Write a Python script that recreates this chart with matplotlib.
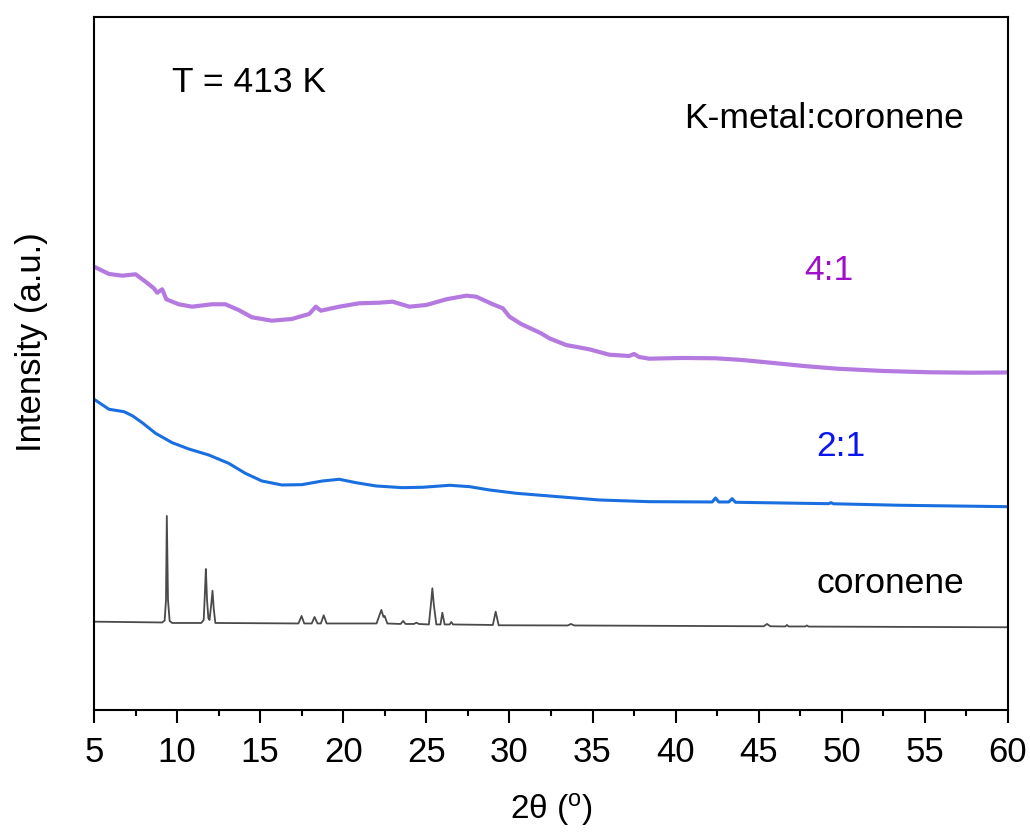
import matplotlib.pyplot as plt
from matplotlib import font_manager

# XRD patterns at 413 K, stacked (intensity in arbitrary units)
two_theta_41 = [5.0, 5.9, 6.7, 7.5, 8.1, 8.6, 8.8, 9.1, 9.35, 10.1, 10.9, 12.1, 12.9,
                13.7, 14.5, 15.7, 16.9, 17.95, 18.35, 18.65, 19.76, 20.96, 22.17,
                22.97, 23.98, 25.0, 26.2, 27.4, 28.0, 29.0, 29.6, 30.0, 30.7, 31.9,
                32.4, 33.4, 34.8, 36.0, 37.2, 37.5, 37.8, 38.4, 40.4, 42.4, 44.0,
                45.7, 47.7, 49.7, 52.5, 55.3, 57.7, 60.0]
int_41 = [443.3, 436, 434.3, 435.7, 428.3, 421.7, 417.3, 420.7, 410.7, 405.7, 403.3,
          405.7, 405.7, 400, 392.7, 389.3, 391, 396, 403.3, 399.3, 403.3, 406.7,
          407.3, 408.3, 403.3, 405, 410.7, 414.3, 413.3, 405.7, 401.7, 393.3, 386,
          376.7, 371.7, 365, 360.7, 355.3, 354, 356, 353, 351.3, 352, 351.7, 350,
          347.3, 344, 341.3, 339, 337.7, 337.3, 337.5]

two_theta_21 = [5.0, 5.9, 6.8, 7.3, 7.9, 8.7, 9.7, 10.7, 11.9, 13.1, 14.1, 15.1, 16.3,
                17.5, 18.75, 19.76, 20.76, 21.97, 23.57, 24.78, 26.4, 27.6, 28.8,
                30.4, 32.4, 35.4, 38.4, 42.2, 42.4, 42.6, 43.2, 43.4, 43.6, 47.5,
                49.2, 49.35, 49.5, 53.5, 60.0]
int_21 = [310.7, 300.7, 298.3, 294.3, 287.3, 276.7, 267.3, 261, 255, 246.7, 236.7,
          229, 225, 225.3, 229, 230.7, 227.3, 224, 222.3, 222.7, 224.7, 223.3, 220,
          216.7, 214, 210, 208.3, 208, 212, 208, 208, 211.3, 207.7, 206.7,
          206.3, 207.3, 206.2, 204.7, 203.3]

two_theta_cor = [5.0, 9.1, 9.25, 9.33, 9.38, 9.45, 9.55, 9.7, 11.45, 11.6, 11.68, 11.73,
                 11.8, 11.88, 11.95, 12.05, 12.13, 12.2, 12.3, 17.3, 17.49, 17.65,
                 18.1, 18.27, 18.45, 18.65, 18.82, 19.0, 22.0, 22.29, 22.42, 22.49,
                 22.65, 23.45, 23.6, 23.75, 24.25, 24.4, 24.55, 25.15, 25.3, 25.36,
                 25.45, 25.6, 25.85, 25.96, 26.1, 26.4, 26.5, 26.6, 29.0, 29.17,
                 29.35, 33.5, 33.7, 33.9, 45.3, 45.5, 45.7, 46.6, 46.7, 46.8, 47.8,
                 47.9, 48.0, 60.0]
int_cor = [88.3, 87.5, 89.5, 110, 194, 110, 89, 87, 87, 90, 120, 141, 110, 92, 90,
           105, 119.3, 102, 87, 86.5, 94, 86.5, 86.5, 93, 86.5, 86.5, 94.7, 86.5,
           86.5, 100, 93, 94, 86.5, 86, 89, 86, 86, 87.3, 86, 85.5, 110, 121.7, 105,
           85.5, 85.5, 97.3, 85.5, 85.5, 88, 85.5, 85, 98.3, 84.7, 84.5, 86, 84.5,
           83.7, 86, 83.7, 83.5, 85, 83.5, 83.5, 84.5, 83.4, 82.7]

x_ticks = [5, 10, 15, 20, 25, 30, 35, 40, 45, 50, 55, 60]

installed = {f.name for f in font_manager.fontManager.ttflist}
plt.rcParams['font.family'] = ['Liberation Sans', 'DejaVu Sans']
narrow = 'Liberation Sans Narrow' if 'Liberation Sans Narrow' in installed else 'Liberation Sans'

fig = plt.figure(figsize=(10.3, 8.33), dpi=100)
ax = fig.add_axes([0.0913, 0.1477, 0.8873, 0.8319])

ax.plot(two_theta_41, int_41, color='#b57ae0', lw=3.0)
ax.plot(two_theta_21, int_21, color='#1a6fe0', lw=2.2)
ax.plot(two_theta_cor, int_cor, color='#4a4a4a', lw=1.3)

ax.set_xlim(5, 60)
ax.set_ylim(0, 693)
ax.set_xticks(x_ticks)
ax.set_xticks([t + 2.5 for t in x_ticks[:-1]], minor=True)
ax.set_yticks([])
ax.tick_params(axis='x', which='major', direction='out', length=9.5, width=1.5, pad=9,
               labelsize=25)
ax.tick_params(axis='x', which='minor', direction='out', length=4.5, width=1.5)
for lab in ax.get_xticklabels():
    lab.set_family(narrow)
for s in ax.spines.values():
    s.set_linewidth(1.5)

ax.set_xlabel('2θ ($\\mathregular{^o}$)', fontsize=24, family=narrow, labelpad=16)
ax.set_ylabel('Intensity (a.u.)', fontsize=25)
ax.yaxis.set_label_coords(-0.05, 0.531)

ax.text(14.34, 618, 'T = 413 K', fontsize=25.5, ha='center', va='baseline')
ax.text(48.92, 582, 'K-metal:coronene', fontsize=25.5, ha='center', va='baseline')
ax.text(49.2, 430, '4:1', fontsize=25.5, ha='center', va='baseline', color='#a010c8')
ax.text(49.94, 254, '2:1', fontsize=25.5, ha='center', va='baseline', color='#0a14ee')
ax.text(52.95, 117, 'coronene', fontsize=25.5, ha='center', va='baseline')

fig.savefig('out.png', dpi=100)
